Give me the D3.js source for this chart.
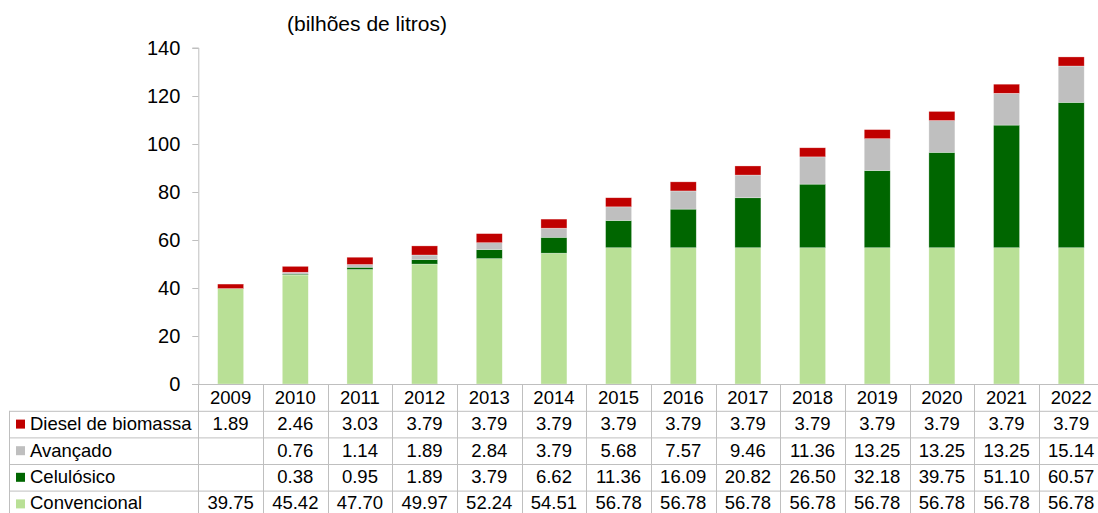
<!DOCTYPE html>
<html><head><meta charset="utf-8">
<script src="https://cdn.jsdelivr.net/npm/d3@7"></script>
<style>
html,body{margin:0;padding:0;background:#fff;}
svg{display:block;font-family:"Liberation Sans",Arial,sans-serif;}
</style></head>
<body>
<svg id="c" width="1098" height="513"></svg>
<script>
const years = ["2009","2010","2011","2012","2013","2014","2015","2016","2017","2018","2019","2020","2021","2022"];
const diesel = [1.89,2.46,3.03,3.79,3.79,3.79,3.79,3.79,3.79,3.79,3.79,3.79,3.79,3.79];
const avancado = [null,0.76,1.14,1.89,2.84,3.79,5.68,7.57,9.46,11.36,13.25,13.25,13.25,15.14];
const celulosico = [null,0.38,0.95,1.89,3.79,6.62,11.36,16.09,20.82,26.50,32.18,39.75,51.10,60.57];
const convencional = [39.75,45.42,47.70,49.97,52.24,54.51,56.78,56.78,56.78,56.78,56.78,56.78,56.78,56.78];
const yTicks = [0,20,40,60,80,100,120,140];
const seriesNames = ["Diesel de biomassa","Avançado","Celulósico","Convencional"];
const title = "(bilhões de litros)";

const seriesData = [diesel, avancado, celulosico, convencional];
const colors = ["#c00000","#bfbfbf","#006600","#b9e096"];

const svg = d3.select("#c");
const x0 = 198.3, colW = 64.66;
const x = d3.scaleBand().domain(years).range([x0, x0 + colW*years.length]).padding(0);
const y = d3.scaleLinear().domain([0,140]).range([384, 48]);
const barW = 26;

// stacked bars (bottom: convencional)
const rows = years.map((yr,i)=>({year:yr, diesel:diesel[i]||0, avancado:avancado[i]||0, celulosico:celulosico[i]||0, convencional:convencional[i]||0}));
const keys = ["convencional","celulosico","avancado","diesel"];
const keyColor = {convencional:colors[3], celulosico:colors[2], avancado:colors[1], diesel:colors[0]};
const stack = d3.stack().keys(keys)(rows);
svg.append("g").selectAll("g").data(stack).join("g")
  .attr("fill", d=>keyColor[d.key])
  .selectAll("rect").data(d=>d).join("rect")
  .attr("x", d=>x(d.data.year)+x.bandwidth()/2-barW/2)
  .attr("width", barW)
  .attr("y", d=>y(d[1]))
  .attr("height", d=>Math.max(0, y(d[0])-y(d[1])))
  .attr("stroke","#fff").attr("stroke-width",0.6).attr("stroke-opacity",0.5);

// y axis
const gy = svg.append("g").attr("transform",`translate(${x0},0)`)
  .call(d3.axisLeft(y).tickValues(yTicks).tickSize(6).tickPadding(12));
gy.select(".domain").attr("stroke","#bfbfbf").attr("d",`M-6,${y(140)}H0.5V${y(0)}`);
gy.selectAll(".tick line").attr("stroke","#bfbfbf");
gy.selectAll(".tick text").attr("font-size",20).attr("fill","#000").attr("font-family","Liberation Sans, Arial, sans-serif");

// title
svg.append("text").attr("x",287).attr("y",31).attr("font-size",21).attr("fill","#000").text(title);

// table
const rowTop = [384, 410.8, 437.4, 464, 490.6, 517.2];
const xr = x0 + colW*years.length;
const grid = svg.append("g").attr("stroke","#bfbfbf").attr("stroke-width",1).attr("fill","none");
// x axis line
grid.append("line").attr("x1",192).attr("x2",xr).attr("y1",384.5).attr("y2",384.5);
for (let r=1;r<rowTop.length;r++){
  grid.append("line").attr("x1",9.5).attr("x2",xr).attr("y1",rowTop[r]+0.5).attr("y2",rowTop[r]+0.5);
}
grid.append("line").attr("x1",9.5).attr("x2",9.5).attr("y1",rowTop[1]).attr("y2",513);
years.forEach((yr,i)=>{
  const xx = Math.round(x(yr))+0.5;
  grid.append("line").attr("x1",xx).attr("x2",xx).attr("y1",384).attr("y2",513);
});
grid.append("line").attr("x1",Math.round(xr)+0.5).attr("x2",Math.round(xr)+0.5).attr("y1",384).attr("y2",513);

const tfs = 18.5;
const tg = svg.append("g").attr("font-size",tfs).attr("fill","#000");
// header
years.forEach(yr=>{
  tg.append("text").attr("x",x(yr)+x.bandwidth()/2).attr("y",(rowTop[0]+rowTop[1])/2).attr("dy","0.36em")
    .attr("text-anchor","middle").text(yr);
});
seriesData.forEach((arr,r)=>{
  const cy = (rowTop[r+1]+rowTop[r+2])/2;
  const base = Math.min(cy + 0.32*tfs, 508.6);
  svg.append("rect").attr("x",16).attr("y",cy-4.5).attr("width",9).attr("height",9).attr("fill",colors[r]);
  tg.append("text").attr("x",30).attr("y",base).text(seriesNames[r]);
  arr.forEach((v,i)=>{
    if (v==null) return;
    tg.append("text").attr("x",x(years[i])+x.bandwidth()/2).attr("y",base)
      .attr("text-anchor","middle").text(v.toFixed(2));
  });
});
</script>
</body></html>
